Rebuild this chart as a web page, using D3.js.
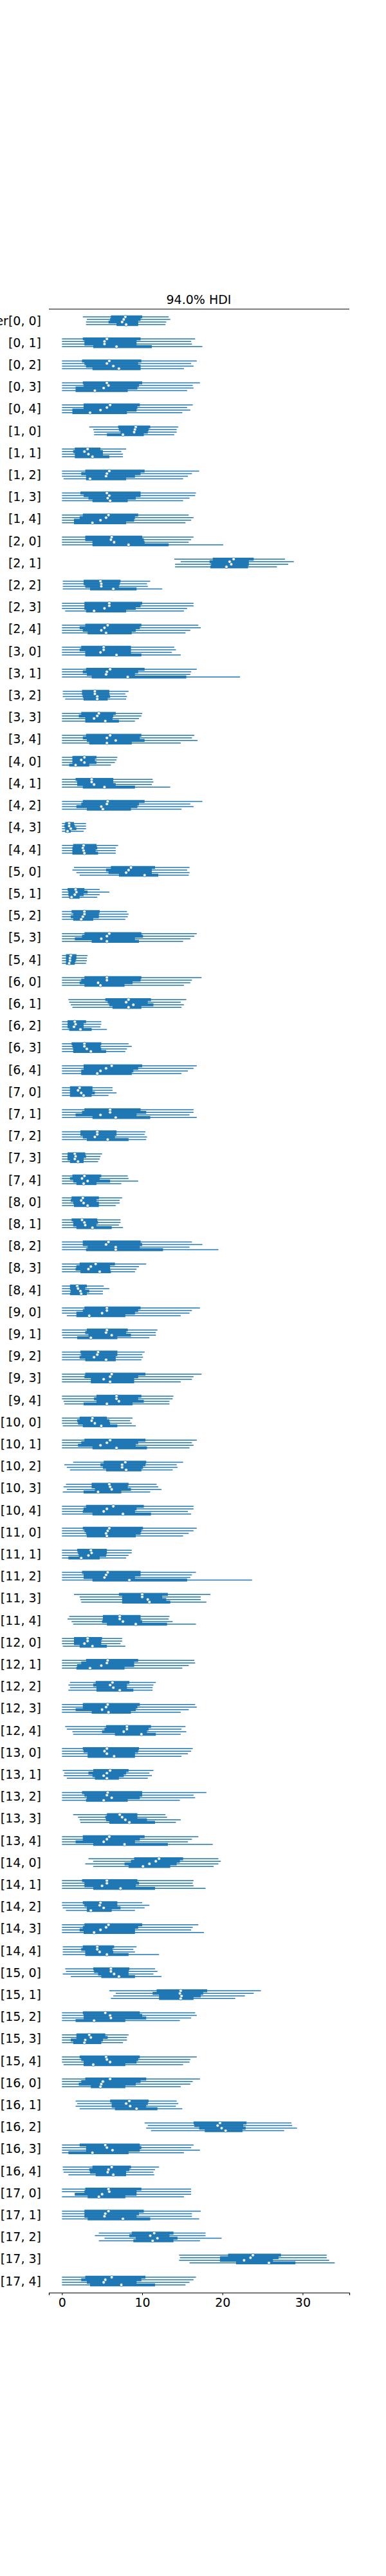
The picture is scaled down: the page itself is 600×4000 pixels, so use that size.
<!DOCTYPE html>
<html>
<head>
<meta charset="utf-8">
<script src="https://cdn.jsdelivr.net/npm/d3@7"></script>
<style>
  body { margin: 0; background: #fff; }
  svg { font-family: "DejaVu Sans", sans-serif; }
</style>
</head>
<body>
<svg id="chart" width="600" height="4000"></svg>
<script>
// forest plot: 90 parameters x 4 chains
var groups = d3.range(18);
var members = d3.range(5);
var rowLabels = [];
groups.forEach(g => members.forEach(m => rowLabels.push(`[${g}, ${m}]`)));
rowLabels[0] = "theta_per_sampler[0, 0]";

var xTicks = [0, 10, 20, 30];

// per row, one value per chain (chain 0..3)
var hdiLow = [
[2.6,3.1,3.0,3.0],[0,0,0,0],[0,0,0,0],[0,0,0,0],[0,0,0,0],
[3.4,3.9,4.0,4.0],[0,0,0,0],[0,0,0,0.2],[0,0,0,0],[0,0,0,0],
[0,0,0,0],[14.0,14.8,14.1,14.1],[0.1,0.1,0.1,0.1],[0,0,0,0.4],[0,0,0,0],
[0,0,0,0],[0,0,0,0],[0.1,0.1,0.1,0.4],[0,0,0,0],[0,0,0,0],
[0,0,0,0],[0,0,0,0],[0,0,0,0],[0,0,0,0],[0,0,0,0],
[1.5,1.3,1.8,2.2],[0,0,0,0],[0,0,0,0],[0,0,0,0],[0,0,0,0],
[0,0,0,0],[0.8,0.9,1.1,1.3],[0,0,0,0],[0,0,0,0],[0,0,0,0],
[0,0,0,0],[0,0,0,0],[0,0,0,0],[0,0,0,0],[0,0,0,0],
[0,0,0,0],[0,0,0,0],[0,0,0,0],[0,0,0,0],[0,0,0,0],
[0,0,0,0.6],[0,0,0,0.1],[0,0,0,0],[0,0,0,0],[0,0,0.2,0.3],
[0,0,0,0.1],[0,0,0,0],[1.4,0.3,0.6,1.0],[0.5,0.2,0.6,0.1],[0,0,0,0],
[0,0,0,0],[0,0,0,0],[0,0,0,0],[1.5,2.2,2.3,2.4],[0.9,0.7,1.2,1.4],
[0,0,0,0.1],[0,0,0,0],[1.0,0.8,1.0,0.8],[0,0,0,0],[0.4,0.6,1.3,1.4],
[0,0,0,0],[0.1,0.3,0.2,0.6],[0,0,0,0],[1.4,2.0,2.2,2.3],[0,0,0,0],
[3.3,3.9,2.9,3.9],[0,0,0,0],[0,0,0.1,0.5],[0,0,0,0],[0.1,0.1,0.1,0.1],
[0.4,0.5,0.1,1.1],[5.9,6.7,6.4,6.1],[0,0,0,0],[0,0,0,0],[0,0,0,0.2],
[0,0,0,0],[1.7,1.9,1.7,2.2],[10.3,10.7,10.5,11.1],[0,0,0,0],[0.1,0.1,0.2,0.8],
[0,0,1.6,0],[0,0,0,0],[4.6,4.1,5.3,4.6],[14.6,14.7,14.6,15.9],[0,0,0,0]
];
var q25 = [
[6.1,6.0,5.8,6.8],[2.6,2.8,2.8,3.9],[2.5,2.8,3.0,3.8],[2.6,2.7,1.7,1.7],[2.7,2.7,1.3,1.3],
[7.0,7.1,7.3,5.6],[1.6,1.4,1.6,1.6],[2.9,2.4,3.0,3.0],[2.3,2.7,3.3,3.8],[2.6,2.2,1.5,1.5],
[2.9,2.9,3.8,3.8],[18.8,18.4,18.6,18.5],[2.7,2.7,2.9,3.5],[2.8,2.8,2.8,3.0],[2.9,2.2,2.6,3.2],
[2.4,2.2,2.9,2.9],[3.0,2.6,3.1,3.7],[2.5,2.5,2.6,2.7],[2.4,2.1,2.9,2.9],[3.0,2.6,3.1,3.4],
[1.3,1.3,1.3,0.9],[1.7,1.9,1.9,2.6],[2.6,2.4,1.8,3.1],[0.4,0.3,0.4,0.4],[1.4,1.3,1.3,1.3],
[6.1,5.5,5.8,7.1],[0.7,0.8,0.8,0.9],[1.2,1.4,1.1,1.4],[2.8,2.5,1.6,3.7],[0.5,0.5,0.5,0.5],
[2.8,2.4,2.2,2.8],[5.4,5.7,5.9,6.3],[0.7,0.7,0.7,0.9],[1.2,1.3,1.4,1.4],[2.7,2.7,2.4,2.4],
[1.0,1.0,1.0,1.0],[2.8,2.5,1.7,3.8],[2.3,2.3,2.6,3.1],[0.7,0.7,0.7,1.0],[1.3,1.0,1.4,1.8],
[1.2,1.1,1.4,1.5],[1.2,1.4,1.4,1.8],[2.6,2.6,3.2,3.0],[2.2,1.8,1.7,2.3],[1.0,1.0,1.1,1.0],
[2.8,2.6,1.8,1.8],[3.1,2.9,3.3,1.9],[2.3,2.4,2.2,2.9],[2.9,2.8,3.6,3.6],[4.3,4.0,4.3,2.7],
[2.2,1.9,2.0,2.6],[2.8,2.4,2.0,3.8],[5.2,4.8,5.1,5.5],[3.7,3.7,4.1,2.7],[3.0,2.7,2.6,3.8],
[2.6,2.8,3.0,3.1],[1.9,2.0,2.1,0.8],[2.5,2.7,2.7,3.8],[7.1,7.5,7.5,7.5],[5.1,5.1,5.0,5.6],
[1.5,1.5,1.5,2.2],[3.0,2.4,1.9,1.8],[4.2,3.9,4.3,4.3],[2.6,2.6,1.7,3.7],[5.5,5.3,5.0,6.6],
[2.6,2.7,3.2,3.2],[3.9,3.3,3.8,4.1],[2.5,2.8,3.1,3.0],[5.6,5.4,5.5,5.9],[2.6,2.6,1.7,3.9],
[9.0,8.6,7.8,8.3],[2.5,2.8,2.8,3.9],[2.6,2.8,3.1,3.1],[2.8,2.6,2.2,2.7],[2.6,2.4,2.9,2.9],
[3.9,4.0,4.5,4.9],[11.8,11.3,12.1,12.1],[2.6,2.7,2.7,1.7],[1.8,1.8,1.1,1.4],[2.2,2.4,2.7,2.7],
[2.9,2.4,2.1,3.6],[6.0,6.2,6.2,6.6],[16.4,16.5,17.1,17.8],[2.2,3.0,3.0,0.8],[3.8,3.4,3.5,4.2],
[2.9,2.8,1.6,3.2],[2.8,2.8,2.8,3.2],[8.7,8.4,9.2,8.9],[20.7,19.7,19.7,21.7],[2.9,2.4,3.1,3.5]
];
var median = [
[7.9,7.7,7.5,8.0],[5.6,5.3,5.3,6.8],[5.9,5.6,6.4,7.1],[5.6,5.8,5.2,4.1],[6.0,5.6,4.8,3.5],
[9.2,9.1,9.0,7.6],[3.2,2.8,3.3,3.8],[5.9,5.6,5.5,3.5],[5.6,5.9,5.7,6.0],[5.8,5.5,4.8,3.8],
[6.2,6.1,6.5,8.3],[21.4,20.9,21.1,20.5],[4.8,4.9,4.9,6.4],[5.9,5.9,5.3,4.0],[5.7,5.3,4.9,5.5],
[5.2,5.2,4.8,6.8],[6.0,5.6,5.5,8.2],[4.1,4.1,4.4,4.4],[4.6,4.4,4.0,5.4],[6.0,5.6,6.7,5.6],
[2.8,2.4,2.8,1.7],[3.7,3.7,4.0,5.3],[5.7,5.6,4.9,5.1],[0.9,0.9,1.1,0.7],[2.7,2.6,2.7,2.8],
[8.6,8.3,8.0,10.3],[1.7,1.8,1.6,1.2],[2.8,2.8,2.6,2.4],[5.9,5.6,4.9,5.6],[1.1,1.0,1.0,0.9],
[5.6,5.6,4.5,4.8],[8.3,8.0,8.9,8.3],[1.6,1.7,1.5,2.3],[2.8,2.8,3.1,3.6],[6.2,5.5,4.8,4.4],
[2.2,2.0,2.4,2.7],[6.0,6.0,4.8,6.7],[4.4,4.4,4.1,5.7],[1.6,1.7,1.6,2.0],[2.8,2.5,3.2,2.7],
[2.6,2.4,2.7,3.2],[2.5,2.8,2.9,3.8],[5.8,5.5,6.7,6.7],[4.2,3.6,3.3,4.7],[1.9,2.0,2.3,2.4],
[5.6,5.6,5.0,3.4],[5.6,5.5,6.2,3.6],[4.5,4.4,4.0,5.5],[6.2,6.0,5.2,6.0],[6.8,6.8,7.1,5.6],
[3.8,3.7,4.1,4.9],[6.0,5.6,4.8,6.8],[7.9,7.5,7.5,8.0],[5.9,6.0,6.2,4.5],[6.4,5.6,5.2,7.6],
[5.9,5.7,5.5,5.6],[3.6,3.7,3.3,2.4],[5.7,5.5,5.3,8.4],[10.0,10.0,10.7,10.9],[7.2,7.2,7.6,9.2],
[3.2,3.2,2.8,3.8],[5.7,5.6,4.9,3.5],[6.3,6.0,6.4,7.2],[5.7,5.5,5.0,5.8],[8.1,8.1,7.7,9.9],
[5.6,5.3,5.6,6.5],[6.0,5.6,5.2,5.6],[5.7,5.6,6.2,5.2],[7.2,7.5,7.9,8.4],[5.9,5.6,5.2,7.8],
[12.1,11.7,10.9,10.1],[5.6,5.6,5.0,7.3],[4.8,4.7,5.2,3.6],[5.8,5.5,4.8,4.0],[4.4,4.4,4.7,5.6],
[6.1,6.1,6.5,7.1],[14.8,14.7,14.9,14.8],[5.4,6.0,6.1,4.0],[3.4,3.6,2.9,2.8],[5.5,5.6,6.0,3.9],
[6.0,5.1,4.9,4.8],[8.4,8.0,8.5,9.3],[19.7,19.4,19.9,20.4],[5.4,5.6,6.3,3.8],[6.2,5.8,5.7,6.4],
[5.8,5.9,5.0,4.6],[5.8,5.4,5.3,7.6],[11.5,11.0,11.9,11.3],[23.8,23.5,22.7,25.8],[6.2,5.4,5.2,7.4]
];
var q75 = [
[10.0,9.8,9.5,9.5],[9.8,9.3,9.3,11.2],[9.9,9.5,9.8,9.8],[10.0,9.6,9.4,8.2],[9.7,9.4,9.3,8.1],
[11.0,10.8,10.7,10.2],[4.8,5.1,5.1,5.9],[10.3,9.8,9.1,8.0],[9.8,9.8,9.2,8.2],[9.5,9.1,9.0,8.0],
[10.0,10.2,10.3,13.3],[23.9,23.3,23.3,23.2],[7.3,7.2,7.1,9.3],[10.0,9.8,9.2,8.0],[9.9,9.7,9.2,8.7],
[8.6,8.6,8.6,9.9],[10.3,9.5,9.1,15.5],[5.9,5.9,6.0,5.7],[6.7,6.4,6.3,7.1],[9.9,9.7,10.3,8.7],
[4.3,4.1,4.3,3.4],[6.4,6.4,6.7,9.1],[10.3,9.6,9.4,8.6],[1.5,1.6,1.8,1.1],[4.3,4.4,4.2,4.5],
[11.6,11.2,11.2,12.0],[2.8,3.2,2.7,2.2],[4.7,4.6,4.6,3.9],[9.9,10.1,9.1,9.6],[1.8,1.8,1.7,1.6],
[9.9,9.8,8.8,7.8],[11.1,10.7,11.4,9.9],[3.0,2.7,2.7,3.7],[4.9,4.8,4.9,5.5],[10.0,9.5,8.9,8.7],
[3.8,3.8,4.1,3.7],[9.8,10.5,9.3,11.0],[6.8,6.8,6.6,8.3],[2.9,3.0,2.7,2.7],[4.9,4.7,6.0,4.3],
[4.6,4.3,4.6,4.6],[4.4,4.5,4.3,6.2],[9.8,10.0,9.7,12.6],[6.6,6.0,6.0,6.1],[3.1,2.9,3.4,3.1],
[9.8,9.5,9.1,7.9],[8.2,8.0,8.6,6.9],[6.9,6.9,6.7,6.7],[10.4,9.5,9.0,9.0],[9.9,9.5,10.2,8.8],
[5.6,5.9,6.0,6.9],[10.4,9.5,9.2,10.6],[10.5,10.4,10.1,9.9],[8.3,8.2,8.6,7.4],[10.2,9.3,9.1,11.1],
[10.1,9.9,9.8,9.2],[5.6,5.6,5.5,4.7],[9.8,9.8,9.1,15.6],[13.2,12.5,13.0,13.5],[9.8,9.8,10.0,13.1],
[5.0,4.9,4.9,5.6],[9.5,9.0,9.0,7.8],[8.4,8.1,8.1,8.9],[9.7,9.4,9.2,8.6],[11.1,10.8,10.6,11.7],
[9.6,9.5,9.1,9.1],[8.3,8.0,7.7,7.1],[10.0,10.0,9.7,8.2],[9.4,9.4,10.6,11.6],[10.3,9.7,9.1,13.2],
[15.1,14.7,14.3,13.5],[9.4,9.6,9.2,11.6],[6.9,6.9,7.3,6.2],[10.0,9.5,9.1,9.1],[6.5,6.3,6.4,8.3],
[8.4,8.3,8.3,9.1],[18.1,17.6,17.3,16.4],[9.7,10.0,10.5,7.9],[5.4,5.7,5.1,4.9],[9.7,9.5,9.3,7.9],
[10.5,9.8,9.2,7.9],[10.8,10.7,10.5,11.9],[23.0,22.6,22.9,22.5],[9.7,9.9,9.7,8.3],[8.6,8.4,8.0,8.0],
[9.9,9.3,9.3,7.9],[10.2,9.6,9.3,11.0],[13.9,13.4,14.4,13.9],[27.3,27.0,26.3,29.1],[10.4,9.9,9.3,11.6]
];
var hdiHigh = [
[13.3,13.5,13.0,12.9],[16.6,16.1,16.2,17.5],[16.8,16.1,16.4,15.2],[17.2,16.3,16.4,15.6],[16.3,15.6,16.0,15.0],
[14.5,14.3,14.3,14.0],[8.0,7.4,7.6,7.6],[17.1,16.2,15.7,15.1],[16.7,16.6,15.9,15.1],[15.8,16.4,16.1,15.4],
[16.4,16.1,15.8,20.1],[27.8,28.9,28.2,26.8],[11.0,10.6,10.7,12.5],[16.4,16.4,15.6,15.2],[17.0,17.3,16.0,15.4],
[14.0,14.2,13.7,14.8],[16.8,16.1,16.0,22.2],[8.3,7.9,8.1,8.0],[10.0,9.9,9.6,9.1],[16.5,16.2,16.9,14.8],
[6.9,6.8,6.6,6.1],[11.3,11.4,11.2,13.5],[17.5,16.0,16.4,14.9],[3.0,3.0,3.0,2.7],[7.0,6.7,6.7,6.7],
[15.9,15.6,15.9,15.8],[4.7,5.9,4.7,4.4],[8.1,8.3,8.2,7.9],[16.8,16.5,16.0,15.1],[3.2,3.1,3.1,3.0],
[17.4,16.2,16.0,15.2],[15.5,14.8,15.2,14.9],[4.9,4.9,4.8,5.6],[8.3,8.7,8.1,7.9],[16.8,16.4,15.7,14.9],
[6.3,6.3,6.8,5.8],[16.4,16.4,15.9,16.8],[10.4,10.3,10.6,10.5],[5.0,4.8,4.7,4.5],[8.2,8.3,9.5,7.4],
[7.5,7.2,7.2,6.7],[7.3,7.3,7.1,7.6],[16.2,17.5,15.9,19.5],[10.5,9.6,9.3,9.1],[5.2,5.9,5.1,5.1],
[17.2,16.2,15.9,14.8],[11.9,11.7,11.7,10.9],[10.3,10.0,10.1,9.9],[17.4,16.4,16.2,14.8],[13.9,13.8,13.4,13.4],
[8.8,8.5,8.7,9.2],[16.8,16.2,16.4,15.9],[15.1,14.3,14.4,13.8],[11.8,12.0,12.4,11.0],[16.4,16.4,15.7,16.1],
[16.8,16.4,15.8,15.1],[8.7,8.7,8.3,8.0],[16.7,16.2,16.0,23.7],[18.5,17.3,17.3,18.0],[13.4,13.3,13.8,16.7],
[7.5,7.5,7.3,7.9],[16.5,16.6,15.8,15.0],[11.7,11.4,11.3,11.3],[16.6,16.8,15.8,14.8],[15.4,14.9,15.5,14.8],
[16.3,16.1,15.7,14.9],[11.4,10.9,11.2,10.7],[18.0,16.4,16.6,14.7],[12.9,13.1,14.8,14.2],[17.0,16.2,15.7,18.8],
[19.5,19.8,19.5,18.9],[16.4,16.3,16.4,17.9],[10.0,10.9,10.3,9.1],[17.0,16.3,16.1,17.7],[9.3,8.9,9.1,12.1],
[11.6,11.9,11.4,12.4],[24.8,23.9,22.8,21.6],[16.6,16.8,16.1,14.7],[8.3,8.1,8.1,7.6],[16.8,16.0,15.9,15.1],
[17.2,16.3,16.0,14.8],[14.3,14.5,14.2,15.0],[28.6,28.7,29.3,27.7],[16.4,16.1,17.2,15.2],[12.1,11.6,11.4,11.5],
[16.1,16.1,16.1,15.2],[17.3,16.2,16.2,17.1],[17.9,17.9,19.9,17.2],[33.0,33.0,33.3,34.0],[16.7,16.4,15.9,15.4]
];

var color = "#1f77b4";
var svg = d3.select("#chart");

var x = d3.scaleLinear().domain([-1.63, 35.82]).range([76, 543]);
var y = d3.scalePoint().domain(d3.range(rowLabels.length)).range([498, 3542]);
var chainOff = d3.scalePoint().domain([0, 1, 2, 3]).range([-6, 6]);

// title + top spine
svg.append("text").attr("x", 309).attr("y", 472).attr("text-anchor", "middle")
  .attr("font-size", 19).text("94.0% HDI");
svg.append("line").attr("x1", 76).attr("x2", 543).attr("y1", 480).attr("y2", 480)
  .attr("stroke", "#000").attr("stroke-width", 1);

// bottom axis
var xAxis = svg.append("g").attr("transform", "translate(0,3560)")
  .call(d3.axisBottom(x).tickValues(xTicks).tickSize(4).tickPadding(5));
xAxis.select(".domain").attr("stroke-width", 1.2);
xAxis.selectAll("text").attr("font-size", 19).attr("font-family", "DejaVu Sans").attr("fill", "#000");

// y labels
svg.append("g").selectAll("text").data(rowLabels).join("text")
  .attr("x", 64).attr("y", (d, i) => y(i)).attr("dy", "0.35em")
  .attr("text-anchor", "end").attr("font-size", 19).text(d => d);

var rows = svg.append("g");
rowLabels.forEach((lab, i) => {
  var g = rows.append("g");
  d3.range(4).forEach(c => {
    var cy = y(i) + chainOff(c);
    g.append("line").attr("x1", x(hdiLow[i][c])).attr("x2", x(hdiHigh[i][c]))
      .attr("y1", cy).attr("y2", cy).attr("stroke", color).attr("stroke-width", 1.5);
  });
  d3.range(4).forEach(c => {
    var cy = y(i) + chainOff(c);
    g.append("line").attr("x1", x(q25[i][c])).attr("x2", x(q75[i][c]))
      .attr("y1", cy).attr("y2", cy).attr("stroke", color).attr("stroke-width", 4.5);
  });
  d3.range(4).forEach(c => {
    g.append("circle").attr("cx", x(median[i][c])).attr("cy", y(i) + chainOff(c))
      .attr("r", 2.4).attr("fill", "#fff").attr("stroke", color).attr("stroke-width", 0.8);
  });
});
</script>
</body>
</html>
